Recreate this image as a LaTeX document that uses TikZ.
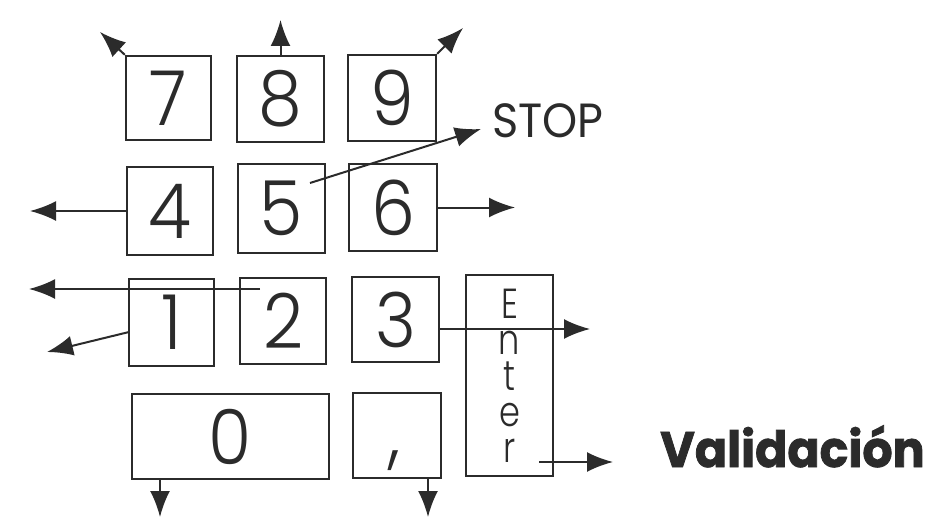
\documentclass[tikz,border=0pt]{standalone}
\usepackage{fontspec}
\usetikzlibrary{arrows.meta}
\newfontfamily\keyfont[FakeStretch=0.92]{Poppins Light}
\newfontfamily\enterfont[FakeStretch=0.8]{Poppins Light}
\newfontfamily\stopfont[FakeStretch=0.93]{Poppins}
\newfontfamily\valfont[FakeStretch=0.95,FakeBold=1.5]{Poppins Bold}
\definecolor{ink}{HTML}{2B2B2B}
\begin{document}
\begin{tikzpicture}[x=1pt,y=-1pt,
  key/.style={draw=ink, line width=2.4pt, inner sep=0pt, text=ink,
    font=\keyfont\fontsize{76}{76}\selectfont},
  arr/.style={draw=ink, line width=2pt, -{Latex[length=26pt,width=20pt]}}]
\useasboundingbox (0,0) rectangle (932,519);
% keys
\node[key, minimum width=85pt, minimum height=84pt] (k7) at (168.5,98) {7};
\node[key, minimum width=87pt, minimum height=86pt] (k8) at (280.5,99) {8};
\node[key, minimum width=88pt, minimum height=86pt] (k9) at (392,98) {9};
\node[key, minimum width=86pt, minimum height=88pt] (k4) at (170,211) {4};
\node[key, minimum width=87pt, minimum height=89pt] (k5) at (281.5,208.5) {5};
\node[key, minimum width=88pt, minimum height=87pt] (k6) at (393,207.5) {6};
\node[key, minimum width=85pt, minimum height=87pt] (k1) at (171.5,322.5) {1};
\node[key, minimum width=86pt, minimum height=86pt] (k2) at (283,321) {2};
\node[key, minimum width=87pt, minimum height=85pt] (k3) at (395.5,319.5) {3};
\node[key, minimum width=197pt, minimum height=85pt] (k0) at (230.5,436.5) {0};
\node[key, minimum width=88pt, minimum height=85pt,
  label={[font=\keyfont\fontsize{76}{76}\selectfont, text=ink, anchor=base, yshift=-25pt, xshift=-2pt]center:{,}}] (kc) at (397,435.5) {};
\node[key, minimum width=87pt, minimum height=201pt, align=center,
  font=\enterfont\fontsize{42}{36}\selectfont] (ent) at (509.5,375.5) {E\\n\\t\\e\\r};
% labels
\node[font=\stopfont\fontsize{48}{48}\selectfont, text=ink, anchor=base west, inner sep=0pt] (stop) at (492,137) {STOP};
\node[font=\valfont\fontsize{50}{50}\selectfont, text=ink, anchor=base west, inner sep=0pt] (val) at (660,467) {Validación};
% arrow ends
\coordinate (t7) at (100,32);
\coordinate (t8) at (280.5,20);
\coordinate (t9) at (463,28);
\coordinate (t4) at (30,211);
\coordinate (t6) at (515,207.5);
\coordinate (s5) at (310,183);
\coordinate (tstop) at (481,129);
\coordinate (s2) at (260,289);
\coordinate (t2) at (29,289);
\coordinate (s1) at (129,332);
\coordinate (t1) at (47,352);
\coordinate (s3) at (439,329);
\coordinate (t3) at (590,329);
\coordinate (s0) at (160,479);
\coordinate (t0) at (160,517);
\coordinate (sc) at (428,478);
\coordinate (tc) at (428,517);
\coordinate (se) at (539,462);
\coordinate (te) at (613,462);
% arrows
\draw[arr] (k7.north west) -- (t7);
\draw[arr] (k8.north) -- (t8);
\draw[arr] (k9.north east) -- (t9);
\draw[arr] (k4.west) -- (t4);
\draw[arr] (k6.east) -- (t6);
\draw[arr] (s5) -- (tstop);
\draw[arr] (s2) -- (t2);
\draw[arr] (s1) -- (t1);
\draw[arr] (s3) -- (t3);
\draw[arr] (s0) -- (t0);
\draw[arr] (sc) -- (tc);
\draw[arr] (se) -- (te);
\end{tikzpicture}
\end{document}
